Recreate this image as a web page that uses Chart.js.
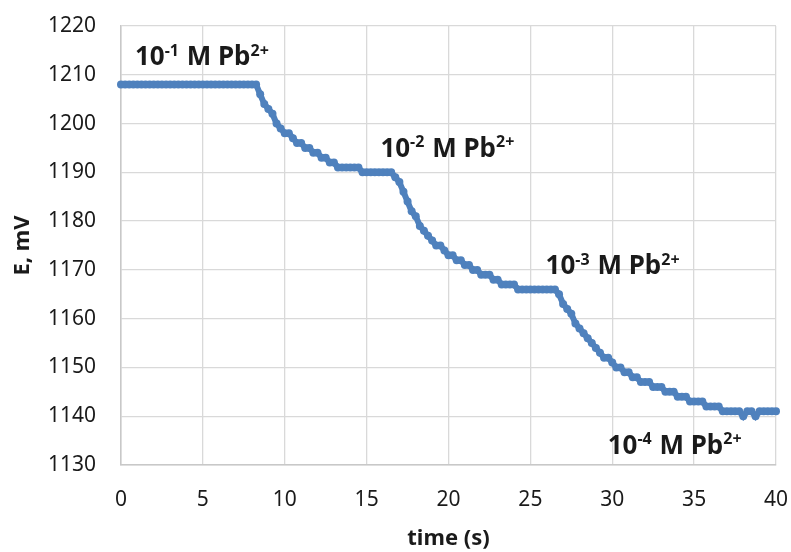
<!DOCTYPE html>
<html>
<head>
<meta charset="utf-8">
<script src="https://cdn.jsdelivr.net/npm/chart.js@4"></script>
<style>
  body { margin: 0; background: #fff; }
  #wrap { width: 791px; height: 552px; }
</style>
</head>
<body>
<div id="wrap"><canvas id="chart" width="791" height="552"></canvas></div>
<script>
// time (s), sampled every 0.25 s
const times = [
  0, 0.25, 0.5, 0.75, 1, 1.25, 1.5, 1.75, 2, 2.25, 2.5, 2.75,
  3, 3.25, 3.5, 3.75, 4, 4.25, 4.5, 4.75, 5, 5.25, 5.5, 5.75,
  6, 6.25, 6.5, 6.75, 7, 7.25, 7.5, 7.75, 8, 8.25, 8.5, 8.75,
  9, 9.25, 9.5, 9.75, 10, 10.25, 10.5, 10.75, 11, 11.25, 11.5, 11.75,
  12, 12.25, 12.5, 12.75, 13, 13.25, 13.5, 13.75, 14, 14.25, 14.5, 14.75,
  15, 15.25, 15.5, 15.75, 16, 16.25, 16.5, 16.75, 17, 17.25, 17.5, 17.75,
  18, 18.25, 18.5, 18.75, 19, 19.25, 19.5, 19.75, 20, 20.25, 20.5, 20.75,
  21, 21.25, 21.5, 21.75, 22, 22.25, 22.5, 22.75, 23, 23.25, 23.5, 23.75,
  24, 24.25, 24.5, 24.75, 25, 25.25, 25.5, 25.75, 26, 26.25, 26.5, 26.75,
  27, 27.25, 27.5, 27.75, 28, 28.25, 28.5, 28.75, 29, 29.25, 29.5, 29.75,
  30, 30.25, 30.5, 30.75, 31, 31.25, 31.5, 31.75, 32, 32.25, 32.5, 32.75,
  33, 33.25, 33.5, 33.75, 34, 34.25, 34.5, 34.75, 35, 35.25, 35.5, 35.75,
  36, 36.25, 36.5, 36.75, 37, 37.25, 37.5, 37.75, 38, 38.25, 38.5, 38.75,
  39, 39.25, 39.5, 39.75, 40
];

// E (mV)
const potential = [
  1208, 1208, 1208, 1208, 1208, 1208, 1208, 1208, 1208, 1208, 1208, 1208,
  1208, 1208, 1208, 1208, 1208, 1208, 1208, 1208, 1208, 1208, 1208, 1208,
  1208, 1208, 1208, 1208, 1208, 1208, 1208, 1208, 1208, 1208, 1206, 1204,
  1203, 1202, 1200, 1199, 1198, 1198, 1197, 1196, 1196, 1195, 1195, 1194,
  1194, 1193, 1193, 1192, 1192, 1191, 1191, 1191, 1191, 1191, 1191, 1190,
  1190, 1190, 1190, 1190, 1190, 1190, 1190, 1189, 1188, 1186, 1184, 1182,
  1181, 1179, 1178, 1177, 1176, 1175, 1175, 1174, 1173, 1173, 1172, 1172,
  1171, 1171, 1170, 1170, 1169, 1169, 1169, 1168, 1168, 1167, 1167, 1167,
  1167, 1166, 1166, 1166, 1166, 1166, 1166, 1166, 1166, 1166, 1166, 1165,
  1163, 1162, 1161, 1159, 1158, 1157, 1156, 1155, 1154, 1153, 1152, 1152,
  1151, 1150, 1150, 1149, 1149, 1148, 1148, 1147, 1147, 1147, 1146, 1146,
  1146, 1145, 1145, 1145, 1144, 1144, 1144, 1143, 1143, 1143, 1143, 1142,
  1142, 1142, 1142, 1141, 1141, 1141, 1141, 1141, 1140, 1141, 1141, 1140,
  1141, 1141, 1141, 1141, 1141
];

// concentration labels: position in data units + exponent text
const labelX = [0.85, 15.84, 25.93, 29.72];
const labelY = [1212, 1193.2, 1169.1, 1132.3];
const labelExp = ['-1', '-2', '-3', '-4'];

const blue = '#4F81BD';
const gridGray = '#D9D9D9';
const textColor = '#1a1a1a';

const concLabels = {
    id: 'concLabels',
    afterDatasetsDraw(chart) {
        const ctx = chart.ctx;
        const xs = chart.scales.x;
        const ys = chart.scales.y;
        const big = 'bold 26px "Noto Sans"';
        const small = 'bold 16px "Noto Sans"';
        ctx.save();
        ctx.fillStyle = textColor;
        ctx.textBaseline = 'alphabetic';
        ctx.textAlign = 'left';
        labelX.forEach((lx, i) => {
            let px = xs.getPixelForValue(lx);
            const py = ys.getPixelForValue(labelY[i]);
            const runs = [
                ['10', false],
                [labelExp[i], true],
                [' M Pb', false],
                ['2+', true]
            ];
            runs.forEach(([txt, sup]) => {
                ctx.font = sup ? small : big;
                ctx.fillText(txt, px, sup ? py - 9.5 : py);
                px += ctx.measureText(txt).width + (sup ? 1 : 0);
            });
        });
        ctx.restore();
    }
};

new Chart(document.getElementById('chart'), {
    type: 'line',
    data: {
        datasets: [{
            data: times.map((t, i) => ({ x: t, y: potential[i] })),
            borderColor: blue,
            backgroundColor: blue,
            borderWidth: 6,
            pointRadius: 4,
            pointBorderWidth: 0,
            pointHoverRadius: 4,
            borderCapStyle: 'round',
            tension: 0,
            clip: false
        }]
    },
    options: {
        responsive: false,
        animation: false,
        devicePixelRatio: 1,
        layout: { padding: { top: 26, right: 15, bottom: 0, left: 0 } },
        plugins: {
            legend: { display: false },
            tooltip: { enabled: false }
        },
        scales: {
            x: {
                type: 'linear',
                min: 0,
                max: 40,
                afterFit: (s) => {
                    s.height = 87;
                    s.paddingLeft = 0;
                    s.paddingRight = 0;
                },
                ticks: {
                    stepSize: 5,
                    padding: 22,
                    color: textColor,
                    font: { family: 'Noto Sans', size: 21 }
                },
                grid: { color: gridGray, lineWidth: 1.3, drawTicks: false },
                border: { color: '#C8C8C8', width: 1.5 },
                title: {
                    display: true,
                    text: 'time (s)',
                    color: textColor,
                    font: { family: 'Noto Sans', size: 22, weight: 'bold' },
                    padding: 0
                }
            },
            y: {
                min: 1130,
                max: 1220,
                afterFit: (s) => {
                    s.width = 121;
                    s.paddingTop = 0;
                    s.paddingBottom = 0;
                },
                ticks: {
                    stepSize: 10,
                    padding: 25,
                    color: textColor,
                    font: { family: 'Noto Sans', size: 21 },
                    callback: (v) => String(v)
                },
                grid: { color: gridGray, lineWidth: 1.3, drawTicks: false },
                border: { color: '#C8C8C8', width: 1.5 },
                title: {
                    display: true,
                    text: 'E, mV',
                    color: textColor,
                    font: { family: 'Noto Sans', size: 22, weight: 'bold' },
                    padding: { top: 10, bottom: 0 }
                }
            }
        }
    },
    plugins: [concLabels]
});
</script>
</body>
</html>
